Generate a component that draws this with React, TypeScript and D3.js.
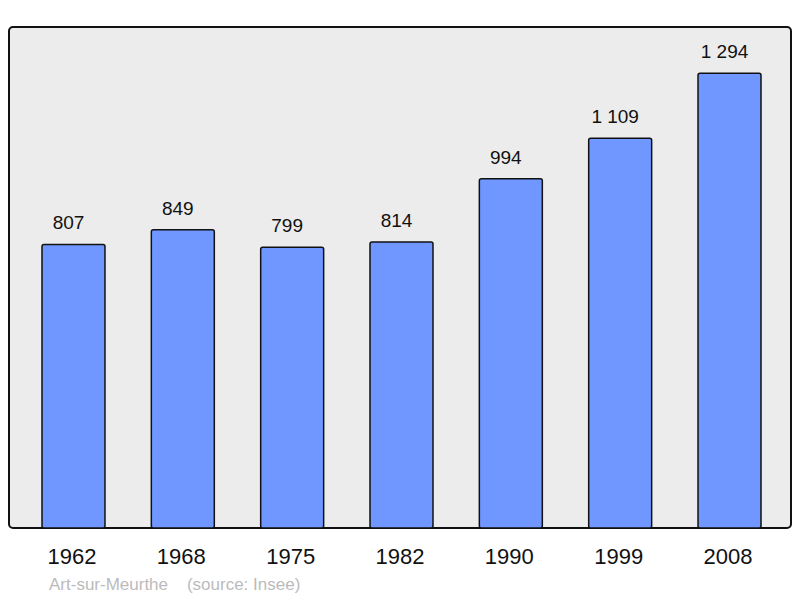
import React from 'react';
import { scaleBand, scaleLinear } from 'd3';

const years = ['1962', '1968', '1975', '1982', '1990', '1999', '2008'];
const population = [807, 849, 799, 814, 994, 1109, 1294];
const valueLabels = ['807', '849', '799', '814', '994', '1 109', '1 294'];

const width = 800;
const height = 598;
const frame = { left: 9, top: 27, right: 791, bottom: 528 };

const App = () => {
  const xScale = scaleBand()
    .domain(years)
    .range([9.2, 793.8])
    .paddingInner(0.424)
    .paddingOuter(0.3);

  const yScale = scaleLinear()
    .domain([0, 1400])
    .range([frame.bottom, frame.bottom - 492]);

  const mid = (y: string) => xScale(y)! + xScale.bandwidth() / 2;

  return (
    <svg width={width} height={height} style={{ position: 'absolute', left: 0, top: 0 }}
      fontFamily="'Liberation Sans', Arial, sans-serif">
      <rect
        x={frame.left}
        y={frame.top}
        width={frame.right - frame.left}
        height={frame.bottom - frame.top}
        rx={4}
        fill="#ececec"
        stroke="#111"
        strokeWidth={2}
      />
      {years.map((y, i) => (
        <g key={y}>
          <rect
            x={xScale(y)}
            y={yScale(population[i])}
            width={xScale.bandwidth()}
            height={frame.bottom - yScale(population[i])}
            rx={2}
            fill="#7097ff"
            stroke="#111"
            strokeWidth={1.5}
          />
          <text
            x={mid(y) - 5}
            y={yScale(population[i]) - 15}
            textAnchor="middle"
            fontSize={19}
            fill="#111"
          >
            {valueLabels[i]}
          </text>
          <text
            x={mid(y) - 1.5}
            y={564}
            textAnchor="middle"
            fontSize={22}
            fill="#111"
          >
            {y}
          </text>
        </g>
      ))}
      <text x={49} y={590} fontSize={17} fill="#bbbbbb" style={{ whiteSpace: 'pre' }}>
        {'Art-sur-Meurthe    (source: Insee)'}
      </text>
    </svg>
  );
};

export default App;
